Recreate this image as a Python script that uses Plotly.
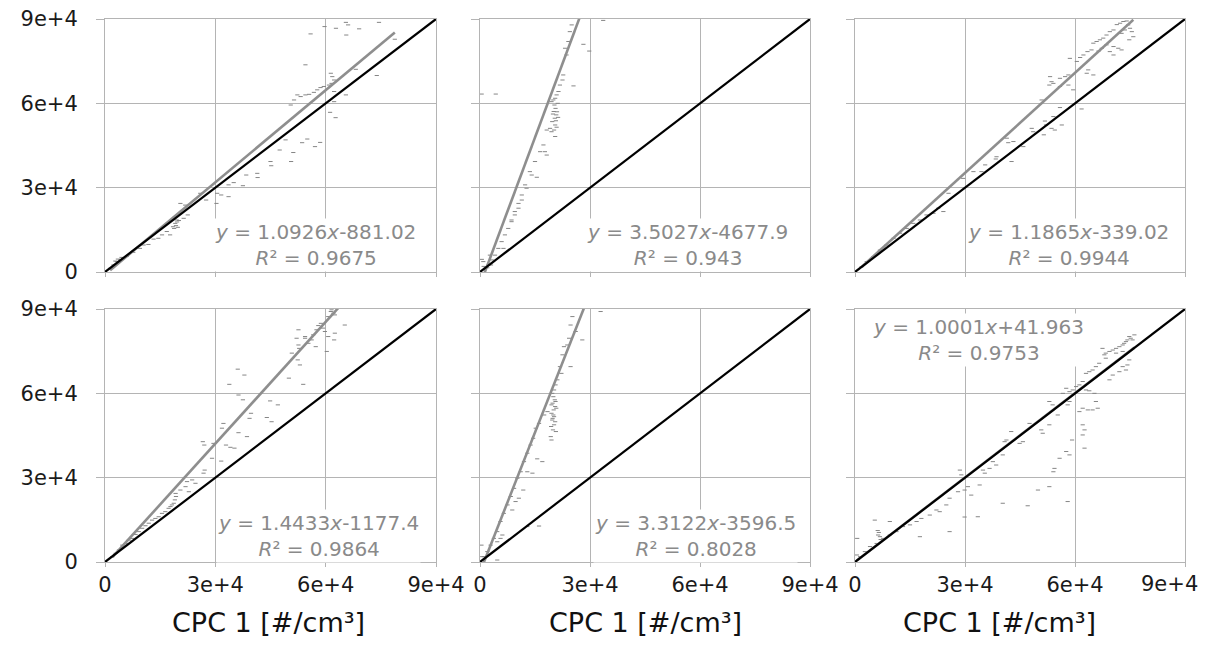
import plotly.graph_objects as go

# ---------------- data (values in #/cm3) ----------------
tick_vals = [0, 30000, 60000, 90000]
tick_text = ["0", "3e+4", "6e+4", "9e+4"]
x_title = "CPC 1 [#/cm³]"
one_to_one = [0, 90000]

slopes = [1.0926, 3.5027, 1.1865, 1.4433, 3.3122, 1.0001]
intercepts = [-881.02, -4677.9, -339.02, -1177.4, -3596.5, 41.963]
r2_text = ["0.9675", "0.943", "0.9944", "0.9864", "0.8028", "0.9753"]

p1_x = [55900, 59700, 62800, 65500, 66100, 65600, 69100, 74500, 78800, 54500, 73900, 68200,
        61400, 61800, 62300, 61600, 60900, 59500, 58600, 57700, 56800, 55500, 54500, 53200, 52300, 51400, 50500, 62300, 65500, 61200, 62700, 62300,
        55000, 53600, 58500, 57100, 51200, 50600, 47500, 49100, 45000, 45200, 41400, 41500, 38400, 37500, 35000, 33600, 33600, 30500, 30300, 31600, 27500, 25900,
        20500, 21800, 22500, 21400, 19500, 19100, 18800, 18500, 17700, 16800, 15500, 14500, 13200, 11800, 10500, 9500, 7700, 5900, 4100, 3200, 2300, 1400,
        19300, 19600, 19000, 19800, 20100, 3500, 4500, 5000, 2800]
p1_y = [84700, 87300, 86700, 88800, 87900, 84300, 86500, 88800, 82800, 73700, 69900, 72100,
        70700, 69500, 68300, 67100, 66500, 66000, 65600, 64800, 63900, 63200, 63000, 62400, 63000, 61200, 59400, 64200, 63000, 56800, 54900, 60600,
        47300, 46000, 46100, 44600, 42500, 39300, 43400, 47000, 39300, 37800, 35100, 33600, 34500, 30700, 31800, 31000, 26800, 28000, 24400, 27400, 25600, 28000,
        24400, 23800, 20300, 19100, 18500, 17300, 15500, 16100, 13200, 14400, 13200, 12000, 11700, 9800, 9600, 8400, 7000, 5500, 4300, 3700, 2500, 1300,
        16500, 17800, 19500, 15900, 18300, 4600, 5200, 5000, 3900]

p2_x = [450, 4300, 25500, 28200, 29800, 33600, 17700, 18200, 15500, 14100, 12700, 11400, 10500, 9500, 8600, 6400,
        23200, 23600, 24100, 24500, 25000, 22700, 22500, 21800, 21400, 20900, 20500, 20000, 19500, 20300, 20600, 20100, 20800, 20400, 19700, 20500, 20200, 19500, 20500, 19100, 18200,
        17300, 16400, 15000, 13600, 12300, 11400, 10500, 9500, 8600, 7700, 6800, 5900, 5000, 4100, 3200, 2300, 1400, 900, 2700,
        21000, 20700, 21200, 19900, 20900, 21300, 1000, 2000, 500, 3000]
p2_y = [63300, 63300, 66200, 81000, 78600, 89500, 42800, 41600, 33700, 34500, 29800, 25600, 22700, 20300, 17900, 8400,
        79600, 77200, 82000, 85500, 87900, 70100, 68300, 66500, 64200, 63000, 61800, 61200, 60600, 59400, 58200, 57100, 55900, 54700, 53500, 52300, 50500, 49900, 48200, 51100, 50500,
        45200, 42800, 39300, 35700, 31000, 27400, 24400, 21500, 18500, 15500, 13200, 10800, 8400, 6000, 4300, 2500, 1300, 3700, 6000,
        57000, 53800, 60000, 56200, 51500, 55000, 2000, 1500, 4500, 2500]

p3_x = [71400, 72300, 73200, 74100, 74500, 75000, 75500, 73600, 72700, 75900,
        74800, 70500, 69500, 68600, 67700, 66800, 65900, 65000, 68600, 70500,
        71800, 72700, 70500, 69500, 67300, 66400, 64500, 63400, 62300, 61400,
        58600, 60500, 63600, 63200, 65000, 58200, 57300, 55900, 53200, 53600,
        53000, 54100, 55900, 58200, 59500, 61800, 55900, 54100, 51800, 52100,
        53600, 54500, 56400, 51500, 48200, 48600, 45900, 43200, 41800, 41400,
        38600, 38400, 42700, 35500, 34500, 32300, 29500, 25500, 24100, 22700,
        21400, 19500, 17700, 15900, 14100, 12300, 10500, 8600, 6800, 5000,
        3200, 1800, 50900]
p3_y = [88000, 88500, 89100, 89300, 87900, 86700, 85500, 86100, 84900, 83700,
        82600, 86100, 85500, 84300, 83200, 82600, 82000, 81400, 80800, 80200,
        79600, 79000, 77200, 78400, 79600, 78600, 79000, 78400, 77200, 76300,
        76000, 74900, 71900, 70700, 70100, 70100, 69500, 68900, 69500, 67700,
        66500, 67100, 66000, 66500, 64800, 58000, 58500, 55300, 53700, 52300,
        51100, 50500, 52300, 48800, 51100, 49900, 44600, 46400, 46000, 47600,
        41000, 40200, 39300, 38100, 35700, 35700, 33300, 28000, 21500, 22700,
        20900, 20300, 18500, 17300, 15500, 13800, 12000, 9600, 7800, 5500,
        3700, 1900, 61200]

p4_x = [61600, 62100, 62500, 61400, 60700, 65200, 62500, 62300, 60300, 60700,
        59800, 58700, 57500, 56600, 56200, 57300, 55300, 54400, 52600, 52100,
        52800, 52400, 53000, 50800, 50000, 53900, 52600, 54400, 58000, 59300,
        36100, 37900, 33800, 36300, 37500, 44900, 47000, 39700, 39300, 44000,
        45300, 32200, 31800, 36300, 38600, 26600, 27000, 29500, 32900, 34100,
        35200, 29100, 31600, 27100, 26800, 23700, 22300, 24600, 21900, 20500,
        22800, 19200, 19300, 19000, 18700, 18200, 17800, 17300, 16400, 15500,
        14600, 13700, 12800, 11900, 11000, 10100, 9200, 8300, 7400, 6500,
        5600, 4700, 3800, 2900, 2000]
p4_y = [89700, 88500, 87900, 89100, 87300, 84300, 81400, 79000, 74900, 80200,
        82000, 84900, 82600, 80800, 79000, 76600, 77800, 80200, 82600, 79600,
        76000, 71900, 70100, 74300, 65400, 63200, 77200, 79600, 84100, 83200,
        68600, 66500, 63200, 59400, 57700, 57300, 55900, 52900, 51100, 51400,
        49900, 49300, 47600, 46000, 44600, 42800, 41600, 42200, 41600, 40800,
        40500, 36900, 35900, 32700, 31600, 29200, 28600, 28000, 26800, 25600,
        25000, 24400, 23300, 22100, 20900, 20300, 19700, 19100, 17900, 17300,
        16100, 15500, 14900, 13800, 12900, 12000, 10800, 9800, 8400, 7800,
        6600, 6000, 4300, 3100, 1900]

p5_x = [32900, 25200, 27900, 26100, 24700, 24300, 23800, 22900, 22500, 21800,
        22200, 24700, 21100, 20600, 20200, 19700, 20000, 20400, 19800, 20500,
        20100, 19500, 20200, 19700, 20200, 19900, 19300, 19500, 18400, 17500,
        16100, 15200, 14500, 13800, 12900, 12000, 11100, 10200, 9300, 8400,
        7500, 6500, 5600, 4700, 3800, 2900, 2000, 1100, 15600, 17000,
        14300, 12900, 11800, 10600, 9700, 8800, 12900, 16100, 6100, 5600,
        4700, 400, 4700, 600, 20600, 19500, 20800, 19800, 20500, 19400,
        20700, 20000]
p5_y = [89100, 87300, 79000, 82000, 84300, 79600, 77200, 76600, 73700, 69500,
        67100, 69500, 64800, 63000, 61200, 60000, 58800, 57700, 56500, 55300,
        54100, 52900, 51700, 50500, 48800, 47000, 44600, 43400, 53500, 52300,
        49300, 47600, 44000, 41600, 38700, 35700, 32100, 29800, 26200, 23300,
        20300, 17300, 14400, 10800, 8400, 6000, 3700, 1900, 36700, 35700,
        31600, 32100, 25600, 22700, 21500, 18500, 12600, 12800, 9600, 8400,
        7200, 6000, 700, 1900, 57100, 55900, 54700, 51100, 49900, 48200,
        46400, 52300]

p6_x = [74800, 75200, 75700, 74300, 73900, 73400, 76200, 73000, 72100, 71200,
        70300, 69400, 68400, 67500, 68000, 71200, 73000, 74800, 74300, 73000,
        73900, 72100, 70300, 69400, 68400, 66600, 65700, 64800, 63900, 63000,
        62100, 61200, 60300, 59400, 58500, 57600, 56700, 63000, 63900, 65300,
        65700, 66200, 64800, 63500, 62100, 61200, 58500, 58000, 53000, 53900,
        55300, 53000, 50800, 51200, 47600, 45800, 44900, 42600, 41300, 40800,
        40300, 37600, 38500, 36700, 35400, 34900, 34000, 30800, 29900, 28600,
        29000, 31700, 28100, 25800, 24900, 23100, 22200, 20400, 18100, 16800,
        15000, 13100, 11300, 9500, 7700, 6300, 5900, 5400, 4100, 2700,
        1400, 9500, 17700, 25800, 29900, 33500, 40300, 47100, 49900, 53000,
        54100, 54400, 55800, 58000, 57600, 58500, 59200, 62100, 62600, 62600,
        62100, 600, 500, 6500, 6800, 7000, 6200]
p6_y = [80200, 79600, 79000, 79000, 78400, 77800, 80800, 77200, 76600, 76000,
        75400, 74900, 74300, 76000, 73700, 74300, 74900, 71900, 70100, 69500,
        68300, 67700, 66500, 64800, 72500, 70700, 69500, 68300, 67700, 67100,
        64200, 63000, 62400, 61200, 60600, 61800, 60000, 61200, 60900, 60000,
        57100, 54700, 54100, 54100, 54700, 53500, 57100, 55900, 57100, 55900,
        52300, 48800, 47000, 45800, 49300, 42800, 42200, 46400, 43400, 42800,
        38100, 35700, 34500, 33300, 31600, 32700, 27400, 26800, 25600, 32700,
        31000, 23800, 25000, 22700, 20300, 17900, 18500, 16700, 15500, 14400,
        13200, 12600, 10800, 9600, 8400, 9600, 6600, 14900, 5500, 3700,
        1900, 14400, 9000, 10800, 16000, 16100, 20900, 20000, 25600, 26800,
        32100, 33300, 36900, 21500, 39300, 38100, 43400, 45200, 40500, 47000,
        48800, 8400, 2500, 10500, 9000, 8000, 11200]

series_x = [p1_x, p2_x, p3_x, p4_x, p5_x, p6_x]
series_y = [p1_y, p2_y, p3_y, p4_y, p5_y, p6_y]

# ---------------- styling / layout ----------------
# The page body keeps the browser's default 8px margin, so the figure is sized to
# fill the 1207x647 window exactly and screen positions are offset by 8px.
OFF = 8
WF, HF = 1207 - 2 * OFF, 647 - 2 * OFF


def sx(px):
    return (px - OFF) / WF


def sy(py):
    return 1 - (py - OFF) / HF


col_dom = [[sx(105), sx(436)], [sx(480), sx(810)], [sx(855), sx(1185)]]
row_dom = [[sy(272), sy(19)], [sy(562), sy(309)]]
ann_pos = [(315.5, 244.5), (687, 244.5), (1068, 244.5),
           (318, 535.5), (695, 535.5), (978, 340)]
title_cx = [268, 645, 999]

GRID = "#b4b4b4"
DOT = "#858585"
TREND = "#8e8e8e"
FONT = "DejaVu Sans"
TICKFONT = dict(family=FONT, size=21, color="#1a1a1a")

fig = go.Figure()
layout = dict(
    width=WF, height=HF,
    margin=dict(l=0, r=0, t=0, b=0),
    paper_bgcolor="white", plot_bgcolor="white",
    showlegend=False,
    font=dict(family=FONT, color="#1a1a1a"),
    annotations=[],
)

for i in range(6):
    r, c = divmod(i, 3)
    xid = "x" if i == 0 else f"x{i+1}"
    yid = "y" if i == 0 else f"y{i+1}"
    xs, ys = series_x[i], series_y[i]

    fig.add_trace(go.Scatter(
        x=xs, y=ys, mode="markers", xaxis=xid, yaxis=yid,
        marker=dict(symbol="line-ew", size=3, color=DOT,
                    line=dict(width=1, color=DOT)),
        hoverinfo="skip"))
    lo, hi = min(xs), max(xs)
    fig.add_trace(go.Scatter(
        x=[lo, hi], y=[slopes[i] * lo + intercepts[i], slopes[i] * hi + intercepts[i]],
        mode="lines", xaxis=xid, yaxis=yid,
        line=dict(color=TREND, width=2.6), hoverinfo="skip"))
    fig.add_trace(go.Scatter(
        x=one_to_one, y=one_to_one, mode="lines", xaxis=xid, yaxis=yid,
        line=dict(color="black", width=2.2), hoverinfo="skip"))

    common = dict(range=[0, 90000], tickmode="array", tickvals=tick_vals,
                  ticks="outside", tickcolor=GRID, tickwidth=1,
                  showgrid=True, gridcolor=GRID, gridwidth=1,
                  showline=True, linecolor=GRID, linewidth=1, mirror=True,
                  zeroline=False, automargin=False, fixedrange=True,
                  ticklabeloverflow="allow", tickfont=TICKFONT)
    ax_key = "xaxis" if i == 0 else f"xaxis{i+1}"
    ay_key = "yaxis" if i == 0 else f"yaxis{i+1}"
    xt = list(tick_text)
    if c == 2 and r == 1:
        xt[-1] = ""  # drawn as a text label below, kept inside the page like the reference
    layout[ax_key] = dict(common, domain=col_dom[c], anchor=yid, ticktext=xt, ticklen=4,
                          showticklabels=(r == 1), ticklabelstandoff=0)
    layout[ay_key] = dict(common, domain=row_dom[r], anchor=xid, ticktext=tick_text, ticklen=8,
                          showticklabels=(c == 0), ticklabelstandoff=14)

    sign = "-" if intercepts[i] < 0 else "+"
    eq = (f"<i>y</i> = {slopes[i]}<i>x</i>{sign}{abs(intercepts[i])}"
          f"<br><i>R</i>² = {r2_text[i]}")
    px, py = ann_pos[i]
    layout["annotations"].append(dict(
        text=eq, xref="paper", yref="paper", x=sx(px), y=sy(py),
        xanchor="center", yanchor="middle", showarrow=False, align="center",
        bgcolor="white", borderpad=1,
        font=dict(family=FONT, size=20, color="#8a8a8a")))

# last tick label of the bottom-right panel, nudged left to stay inside the page
layout["annotations"].append(dict(
    text=tick_text[-1], xref="paper", yref="paper", x=sx(1169), y=sy(584),
    xanchor="center", yanchor="middle", showarrow=False, font=TICKFONT))

for c in range(3):
    layout["annotations"].append(dict(
        text=x_title, xref="paper", yref="paper", x=sx(title_cx[c]), y=0,
        xanchor="center", yanchor="bottom", showarrow=False, borderpad=0,
        font=dict(family=FONT, size=27, color="#111111")))

fig.update_layout(**layout)
fig.write_html("out.html")
